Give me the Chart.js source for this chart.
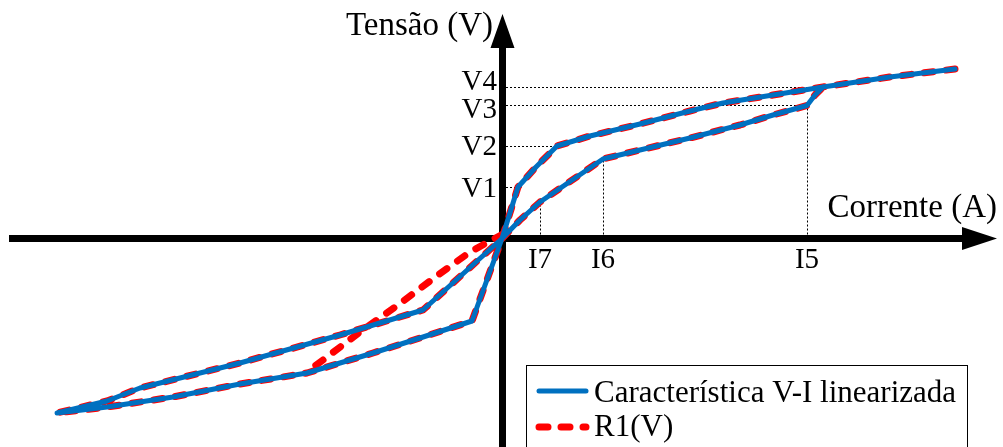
<!DOCTYPE html>
<html lang="pt">
<head>
<meta charset="utf-8">
<title>Característica V-I</title>
<script src="https://cdn.jsdelivr.net/npm/chart.js@4"></script>
<style>
  html, body { margin: 0; padding: 0; background: #fff; }
  #wrap { position: relative; width: 1003px; height: 447px; overflow: hidden; }
  canvas { display: block; }
</style>
</head>
<body>
<div id="wrap"><canvas id="vi" width="1003" height="447"></canvas></div>
<script>
// Linearized V-I loop (current, voltage), traced as one continuous path
const loopCurrent = [
  45.3, 38.8, 32.1, 27.1, 22.1, 18.8, 13.8, 8.8, 5.5, 3.4, 1.6, 0.0,
  -3.0, -8.2, -12.9, -19.5, -26.2, -32.9, -39.5, -44.5,
  -39.5, -36.2, -26.2, -16.2, -7.9, 0.0,
  1.8, 3.8, 10.1, 13.8, 18.8, 23.8, 27.1, 30.5, 31.3, 32.1
];
const loopVoltage = [
  16.95, 16.15, 15.15, 14.35, 13.55, 12.75, 11.45, 10.25, 9.25, 7.15, 5.15, 0.0,
  -8.25, -9.95, -11.45, -13.45, -14.55, -15.85, -16.85, -17.45,
  -16.25, -14.95, -12.45, -9.65, -7.15, 0.0,
  1.85, 3.65, 7.95, 8.85, 10.05, 11.35, 12.35, 13.3, 14.35, 15.15
];

// R1(V) follows the loop and adds a separate branch in the third quadrant
const r1BranchCurrent = [0.1, -3.2, -6.4, -10.4, -14.2, -17.5, -19.5];
const r1BranchVoltage = [0.45, -1.35, -3.65, -6.65, -9.35, -11.85, -13.35];

// Marked voltage levels and how far their guide reaches along the current axis
const vTickLabels = ['V1', 'V2', 'V3', 'V4'];
const vTickValues = [5.15, 9.25, 13.3, 15.15];
const vGuideReach = [1.6, 5.5, 30.5, 32.1];

// Marked currents and how far their guide reaches up the voltage axis
const iTickLabels = ['I7', 'I6', 'I5'];
const iTickValues = [3.8, 10.1, 30.5];
const iGuideReach = [3.65, 7.95, 13.3];

const seriesNames = ['Característica V-I linearizada', 'R1(V)'];
const axisTitles = { voltage: 'Tensão (V)', current: 'Corrente (A)' };

const BLUE = '#0070C0';
const RED = '#FF0000';
const SERIF = '"Liberation Serif", "Times New Roman", serif';

const toPoints = (xs, ys) => xs.map((v, i) => ({ x: v, y: ys[i] }));

const axesPlugin = {
  id: 'viAxes',
  beforeDatasetsDraw(chart) {
    const { ctx, chartArea: a, scales: { x, y } } = chart;
    const x0 = x.getPixelForValue(0);
    const y0 = y.getPixelForValue(0);
    ctx.save();

    // dotted guides
    ctx.strokeStyle = '#000';
    ctx.lineWidth = 1;
    ctx.setLineDash([2, 2]);
    vTickValues.forEach((v, i) => {
      const py = Math.round(y.getPixelForValue(v)) + 0.5;
      ctx.beginPath();
      ctx.moveTo(x0, py);
      ctx.lineTo(x.getPixelForValue(vGuideReach[i]), py);
      ctx.stroke();
    });
    iTickValues.forEach((v, i) => {
      const px = Math.round(x.getPixelForValue(v)) + 0.5;
      ctx.beginPath();
      ctx.moveTo(px, y0);
      ctx.lineTo(px, y.getPixelForValue(iGuideReach[i]));
      ctx.stroke();
    });
    ctx.setLineDash([]);

    // axes with arrowheads
    ctx.fillStyle = '#000';
    const hBase = a.right - 41, hTip = a.right - 6;
    ctx.fillRect(a.left + 9, y0 - 3.5, hBase - a.left - 9, 7);
    ctx.beginPath();
    ctx.moveTo(hBase, y0 - 11.5);
    ctx.lineTo(hTip, y0);
    ctx.lineTo(hBase, y0 + 11.5);
    ctx.closePath();
    ctx.fill();

    const vBase = a.top + 48, vTip = a.top + 14;
    ctx.fillRect(x0 - 3, vBase, 7, a.bottom - vBase);
    ctx.beginPath();
    ctx.moveTo(x0 + 0.5 - 12, vBase);
    ctx.lineTo(x0 + 0.5, vTip);
    ctx.lineTo(x0 + 0.5 + 12, vBase);
    ctx.closePath();
    ctx.fill();
    ctx.restore();
  },
  afterDatasetsDraw(chart) {
    const { ctx, chartArea: a, scales: { x, y } } = chart;
    const x0 = x.getPixelForValue(0);
    const y0 = y.getPixelForValue(0);
    ctx.save();
    ctx.fillStyle = '#000';

    // voltage level labels, right of them the axis
    ctx.font = '29px ' + SERIF;
    ctx.textAlign = 'right';
    ctx.textBaseline = 'alphabetic';
    const vShift = [10, 9, 12, 3];
    vTickLabels.forEach((t, i) => {
      ctx.fillText(t, x0 - 5, y.getPixelForValue(vTickValues[i]) + vShift[i]);
    });

    // current labels under the axis
    ctx.textAlign = 'center';
    iTickLabels.forEach((t, i) => {
      ctx.fillText(t, x.getPixelForValue(iTickValues[i]), y0 + 29);
    });

    // axis titles
    ctx.font = '33px ' + SERIF;
    ctx.textAlign = 'right';
    ctx.fillText(axisTitles.voltage, x0 - 9, a.top + 35);
    ctx.fillText(axisTitles.current, a.right - 6, y0 - 21.5);

    // legend
    const lx = 526.5, ly = 365.5, lr = 967.5;
    ctx.strokeStyle = '#000';
    ctx.lineWidth = 1;
    ctx.strokeRect(lx, ly, lr - lx, a.bottom + 20 - ly);

    ctx.lineCap = 'round';
    ctx.strokeStyle = BLUE;
    ctx.lineWidth = 5;
    ctx.beginPath();
    ctx.moveTo(539, 391);
    ctx.lineTo(586, 391);
    ctx.stroke();

    ctx.strokeStyle = RED;
    ctx.lineWidth = 7;
    ctx.setLineDash([9, 13]);
    ctx.beginPath();
    ctx.moveTo(539, 427);
    ctx.lineTo(586, 427);
    ctx.stroke();
    ctx.setLineDash([]);

    ctx.fillStyle = '#000';
    ctx.font = '31px ' + SERIF;
    ctx.textAlign = 'left';
    ctx.fillText(seriesNames[0], 594, 402);
    ctx.fillText(seriesNames[1], 594, 436);
    ctx.restore();
  }
};

new Chart(document.getElementById('vi'), {
  type: 'scatter',
  data: {
    datasets: [
      {
        label: seriesNames[0],
        data: toPoints(loopCurrent, loopVoltage),
        showLine: true,
        borderColor: BLUE,
        borderWidth: 5,
        borderJoinStyle: 'round',
        borderCapStyle: 'round',
        pointRadius: 0,
        tension: 0,
        order: 0
      },
      {
        label: seriesNames[1],
        data: toPoints(loopCurrent, loopVoltage),
        showLine: true,
        borderColor: RED,
        borderWidth: 7,
        borderDash: [9, 13],
        borderCapStyle: 'round',
        borderJoinStyle: 'round',
        pointRadius: 0,
        tension: 0,
        order: 1
      },
      {
        label: seriesNames[1] + ' ramo',
        data: toPoints(r1BranchCurrent, r1BranchVoltage),
        showLine: true,
        borderColor: RED,
        borderWidth: 7,
        borderDash: [9, 13],
        borderCapStyle: 'round',
        borderJoinStyle: 'round',
        pointRadius: 0,
        tension: 0,
        order: 2
      }
    ]
  },
  options: {
    responsive: false,
    animation: false,
    devicePixelRatio: 1,
    layout: { padding: 0 },
    plugins: { legend: { display: false }, tooltip: { enabled: false }, title: { display: false } },
    scales: {
      x: { type: 'linear', min: -50.2, max: 50.1, display: false },
      y: { type: 'linear', min: -20.85, max: 23.85, display: false }
    }
  },
  plugins: [axesPlugin]
});
</script>
</body>
</html>
